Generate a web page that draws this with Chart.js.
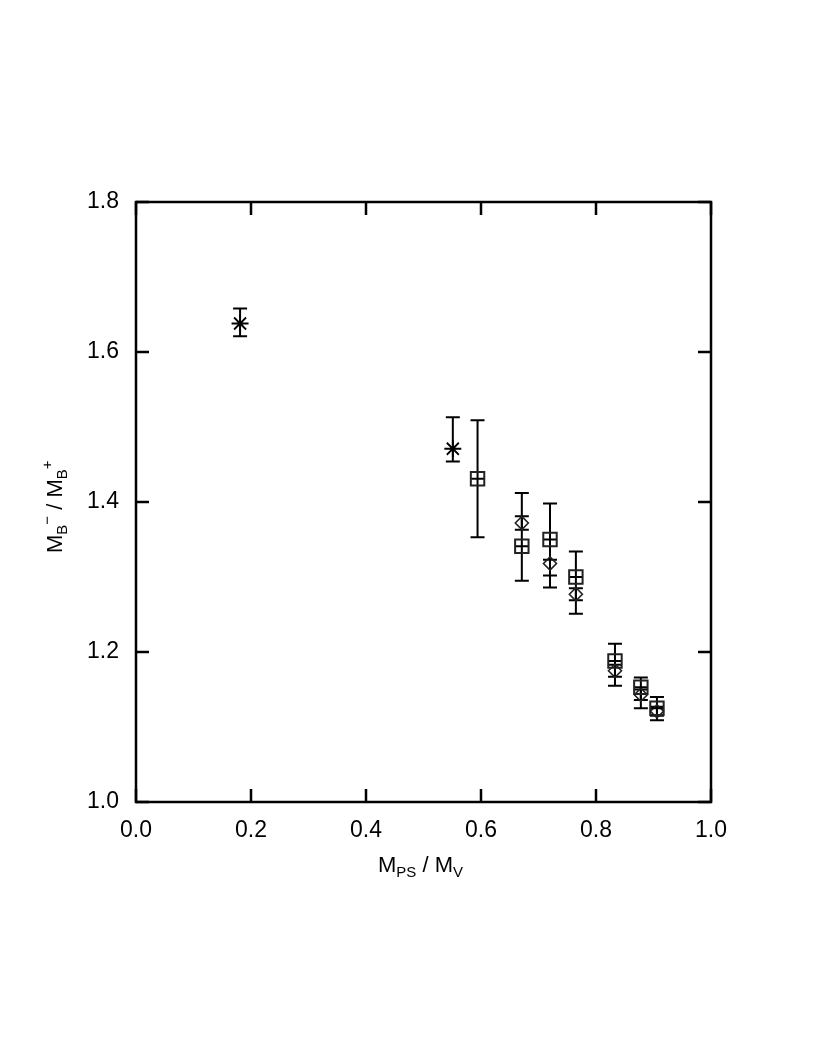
<!DOCTYPE html>
<html>
<head>
<meta charset="utf-8">
<script src="https://cdn.jsdelivr.net/npm/chart.js@4"></script>
<style>
  html, body { margin: 0; padding: 0; background: #fff; }
  #wrap { width: 817px; height: 1058px; position: relative; }
</style>
</head>
<body>
<div id="wrap"><canvas id="chart"></canvas></div>
<script>
// Asterisks
const starX = [0.181, 0.551];
const starY = [1.638, 1.471];
const starLo = [1.621, 1.454];
const starHi = [1.658, 1.513];

// Squares
const squareX = [0.594, 0.671, 0.720, 0.765, 0.833, 0.878, 0.906];
const squareY = [1.431, 1.341, 1.350, 1.300, 1.188, 1.153, 1.125];
const squareLo = [1.353, 1.295, 1.286, 1.251, 1.155, 1.125, 1.109];
const squareHi = [1.509, 1.412, 1.398, 1.334, 1.211, 1.166, 1.140];

// Diamonds
const diamondX = [0.671, 0.720, 0.765, 0.833, 0.878, 0.906];
const diamondY = [1.372, 1.318, 1.277, 1.175, 1.143, 1.121];
const diamondLo = [1.363, 1.302, 1.269, 1.167, 1.136, 1.115];
const diamondHi = [1.381, 1.323, 1.285, 1.183, 1.150, 1.127];

const xTicks = [0.0, 0.2, 0.4, 0.6, 0.8, 1.0];
const yTicks = [1.0, 1.2, 1.4, 1.6, 1.8];

const FONT = '"Liberation Sans", Arial, Helvetica, sans-serif';

const toPoints = (xs, ys, lo, hi) => xs.map((x, i) => ({ x, y: ys[i], lo: lo[i], hi: hi[i] }));

// error bars with caps
const errorBars = {
  id: 'errorBars',
  beforeDatasetsDraw(chart) {
    const { ctx, scales: { x, y } } = chart;
    ctx.save();
    ctx.strokeStyle = '#000';
    ctx.lineWidth = 2;
    chart.data.datasets.forEach(ds => {
      if (!ds.errors) return;
      ds.data.forEach(p => {
        const px = x.getPixelForValue(p.x);
        const top = y.getPixelForValue(p.hi);
        const bot = y.getPixelForValue(p.lo);
        ctx.beginPath();
        ctx.moveTo(px, top); ctx.lineTo(px, bot);
        ctx.moveTo(px - 7, top); ctx.lineTo(px + 7, top);
        ctx.moveTo(px - 7, bot); ctx.lineTo(px + 7, bot);
        ctx.stroke();
      });
    });
    ctx.restore();
  }
};

// frame, inward ticks and axis titles
const frame = {
  id: 'frame',
  afterDraw(chart) {
    const { ctx, chartArea: a, scales: { x, y } } = chart;
    ctx.save();
    ctx.strokeStyle = '#000';
    ctx.lineWidth = 2.5;
    ctx.strokeRect(a.left, a.top, a.right - a.left, a.bottom - a.top);
    ctx.beginPath();
    xTicks.forEach(v => {
      const px = x.getPixelForValue(v);
      ctx.moveTo(px, a.bottom); ctx.lineTo(px, a.bottom - 13);
      ctx.moveTo(px, a.top); ctx.lineTo(px, a.top + 13);
    });
    yTicks.forEach(v => {
      const py = y.getPixelForValue(v);
      ctx.moveTo(a.left, py); ctx.lineTo(a.left + 13, py);
      ctx.moveTo(a.right, py); ctx.lineTo(a.right - 13, py);
    });
    ctx.stroke();

    // runs of [text, size, baseline shift]
    const drawRuns = (runs) => {
      let cx = 0;
      runs.forEach(([t, s, dy]) => {
        ctx.font = s + 'px ' + FONT;
        ctx.fillText(t, cx, dy);
        cx += ctx.measureText(t).width;
      });
    };
    ctx.fillStyle = '#000';
    ctx.textBaseline = 'alphabetic';

    // x title
    ctx.save();
    ctx.translate(378, 872);
    drawRuns([['M', 22, 0], ['PS', 15, 5], [' / M', 22, 0], ['V', 15, 5]]);
    ctx.restore();

    // y title
    ctx.save();
    ctx.translate(62, 553);
    ctx.rotate(-Math.PI / 2);
    drawRuns([['M', 22, 0], ['B', 15, 5], ['\u2212', 15, -10], [' / M', 22, 0], ['B', 15, 5], ['+', 15, -10]]);
    ctx.restore();
    ctx.restore();
  }
};

new Chart(document.getElementById('chart'), {
  type: 'scatter',
  data: {
    datasets: [
      {
        label: 'asterisk',
        data: toPoints(starX, starY, starLo, starHi),
        errors: true,
        pointStyle: 'star',
        pointRadius: 8.5,
        borderColor: '#000',
        borderWidth: 1.8,
        backgroundColor: 'transparent'
      },
      {
        label: 'square',
        data: toPoints(squareX, squareY, squareLo, squareHi),
        errors: true,
        pointStyle: 'rect',
        pointRadius: 9.5,
        borderColor: '#222',
        borderWidth: 2,
        backgroundColor: 'transparent'
      },
      {
        label: 'square bar',
        data: toPoints(squareX, squareY, squareLo, squareHi),
        pointStyle: 'line',
        pointRadius: 6.5,
        borderColor: '#000',
        borderWidth: 2,
        backgroundColor: 'transparent'
      },
      {
        label: 'diamond',
        data: toPoints(diamondX, diamondY, diamondLo, diamondHi),
        errors: true,
        pointStyle: 'rectRot',
        pointRadius: 6.5,
        borderColor: '#222',
        borderWidth: 1.6,
        backgroundColor: 'transparent'
      }
    ]
  },
  options: {
    responsive: true,
    maintainAspectRatio: false,
    animation: false,
    layout: { padding: { top: 202, right: 106, left: 0, bottom: 0 } },
    plugins: {
      legend: { display: false },
      tooltip: { enabled: false }
    },
    scales: {
      x: {
        type: 'linear',
        min: 0, max: 1,
        afterFit: s => { s.height = 256; },
        afterBuildTicks: s => { s.ticks = xTicks.map(v => ({ value: v })); },
        grid: { display: false },
        border: { display: false },
        ticks: {
          padding: 7,
          color: '#000',
          font: { size: 23, family: FONT },
          callback: v => v.toFixed(1)
        }
      },
      y: {
        type: 'linear',
        min: 1.0, max: 1.8,
        afterFit: s => { s.width = 136; },
        afterBuildTicks: s => { s.ticks = yTicks.map(v => ({ value: v })); },
        grid: { display: false },
        border: { display: false },
        ticks: {
          padding: 9,
          color: '#000',
          font: { size: 23, family: FONT },
          callback: v => v.toFixed(1)
        }
      }
    }
  },
  plugins: [errorBars, frame]
});
</script>
</body>
</html>
